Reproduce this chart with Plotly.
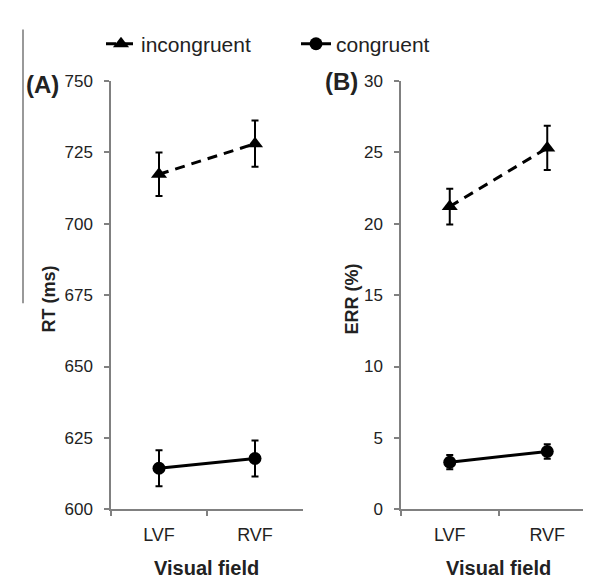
import plotly.graph_objects as go

fields = ["LVF", "RVF"]
rt_incongruent = [717.3, 728.0]
rt_incongruent_err = [7.6, 8.1]
rt_congruent = [614.4, 617.8]
rt_congruent_err = [6.3, 6.3]
err_incongruent = [21.2, 25.3]
err_incongruent_err = [1.25, 1.55]
err_congruent = [3.3, 4.05]
err_congruent_err = [0.5, 0.5]
rt_ticks = [600, 625, 650, 675, 700, 725, 750]
err_ticks = [0, 5, 10, 15, 20, 25, 30]

W, H = 591, 581
def px(x): return x / W
def py(y): return (H - y) / H

fig = go.Figure()

def add_pair(xa, ya, inc, inc_e, con, con_e, show):
    fig.add_trace(go.Scatter(
        x=fields, y=inc, xaxis=xa, yaxis=ya, mode="lines+markers",
        name="incongruent", showlegend=show, legendrank=1,
        line=dict(color="black", width=3, dash="10px,7px"),
        marker=dict(symbol="triangle-up", size=14, color="black"),
        error_y=dict(type="data", array=inc_e, color="black", thickness=2, width=3.5),
    ))
    fig.add_trace(go.Scatter(
        x=fields, y=con, xaxis=xa, yaxis=ya, mode="lines+markers",
        name="congruent", showlegend=show, legendrank=2,
        line=dict(color="black", width=3),
        marker=dict(symbol="circle", size=13, color="black"),
        error_y=dict(type="data", array=con_e, color="black", thickness=2, width=3.5),
    ))

add_pair("x", "y", rt_incongruent, rt_incongruent_err, rt_congruent, rt_congruent_err, True)
add_pair("x2", "y2", err_incongruent, err_incongruent_err, err_congruent, err_congruent_err, False)

FONT = "Liberation Sans, Arial"
ytickfont = dict(family=FONT, size=17, color="#222")
xtickfont = dict(family=FONT, size=18, color="#222")
axis_common = dict(showline=True, linecolor="#808080", linewidth=1.5,
                   ticks="outside", tickcolor="#808080", ticklen=5, tickwidth=1.5,
                   showgrid=False, zeroline=False)

ydom = [py(509), py(66)]
fig.update_layout(
    width=W, height=H, margin=dict(l=0, r=0, t=0, b=0),
    paper_bgcolor="white", plot_bgcolor="white",
    xaxis=dict(domain=[px(103), px(295)], type="category", range=[-0.5, 1.5],
               tickson="boundaries", anchor="y", ticklabelstandoff=8,
               tickfont=xtickfont, **axis_common),
    yaxis=dict(domain=ydom, range=[600, 750], tickvals=rt_ticks, anchor="x",
               ticklabelstandoff=8, tickfont=ytickfont, **axis_common),
    xaxis2=dict(domain=[px(393), px(588)], type="category", range=[-0.5, 1.5],
                tickson="boundaries", anchor="y2", ticklabelstandoff=8,
                tickfont=xtickfont, **axis_common),
    yaxis2=dict(domain=ydom, range=[0, 30], tickvals=err_ticks, anchor="x2",
                ticklabelstandoff=8, tickfont=ytickfont, **axis_common),
    showlegend=True,
    legend=dict(orientation="h", x=px(93), y=py(28), xanchor="left", yanchor="middle",
                font=dict(family=FONT, size=21, color="#222"),
                itemwidth=30, entrywidth=150, bgcolor="rgba(0,0,0,0)", traceorder="normal"),
)

bold = dict(family=FONT, color="#222")
annos = [
    dict(text="<b>(A)</b>", x=px(34), y=py(70), font=dict(size=24, **bold)),
    dict(text="<b>(B)</b>", x=px(333), y=py(67), font=dict(size=24, **bold)),
    dict(text="<b>RT (ms)</b>", x=px(41), y=py(292), textangle=-90, font=dict(size=18, **bold)),
    dict(text="<b>ERR (%)</b>", x=px(344), y=py(292), textangle=-90, font=dict(size=18, **bold)),
    dict(text="<b>Visual field</b>", x=px(199), y=py(570), font=dict(size=20, **bold)),
    dict(text="<b>Visual field</b>", x=px(490), y=py(570), font=dict(size=20, **bold)),
]
for a in annos:
    fig.add_annotation(xref="paper", yref="paper", showarrow=False,
                       xanchor="center", yanchor="middle", **a)

fig.add_shape(type="line", xref="paper", yref="paper",
              x0=px(15), x1=px(15), y0=py(13), y1=py(296),
              line=dict(color="#777", width=1.5))

fig.write_html("out.html")
